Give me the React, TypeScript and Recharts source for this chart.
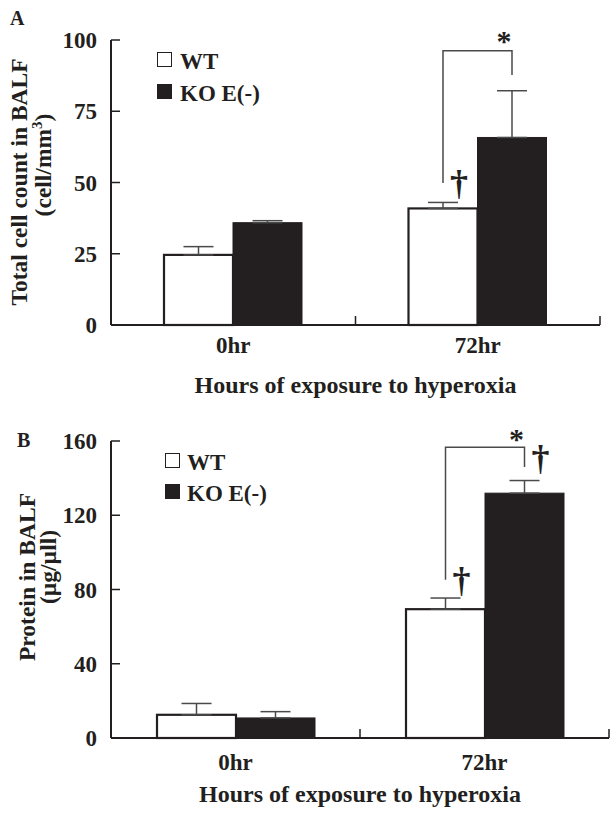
import React from 'react';
import { BarChart, Bar, XAxis, YAxis, ErrorBar, Legend } from 'recharts';

const categories = ['0hr', '72hr'];
const seriesNames = ['WT', 'KO E(-)'];
const xTitle = 'Hours of exposure to hyperoxia';

// Panel A: total cell count in BALF
const cellWt = [24.6, 40.9];
const cellWtErr = [2.9, 2.1];
const cellKo = [35.9, 65.8];
const cellKoErr = [0.7, 16.4];
const cellTicks = [0, 25, 50, 75, 100];
const cellWtDagger = [null, 49];
const cellKoDagger = [null, null];
const cellBracket = [null, { top: 96.2, left: 49.8, right: 87.7, star: 100.9 }];

// Panel B: protein in BALF
const protWt = [12.5, 69.4];
const protWtErr = [6.1, 6.0];
const protKo = [10.8, 131.9];
const protKoErr = [3.4, 6.8];
const protTicks = [0, 40, 80, 120, 160];
const protWtDagger = [null, 84];
const protKoDagger = [null, 150];
const protBracket = [null, { top: 156.7, left: 85.2, right: 146, star: 163.3 }];

const INK = '#231f20';
const LINE = '#4a4a4a';
const FONT = "'Liberation Serif', 'Times New Roman', serif";
const seriesFills = ['#ffffff', INK];

type Br = { top: number; left: number; right: number; star: number } | null;

function buildData(wt: number[], wtE: number[], ko: number[], koE: number[]) {
  return categories.map((cat, i) => ({
    cat,
    wt: wt[i],
    ko: ko[i],
    wtErr: [0, wtE[i]],
    koErr: [0, koE[i]],
  }));
}

const Dagger = ({ x, y }: { x: number; y: number }) => (
  <text x={x} y={y + 10} textAnchor="middle" fontFamily={FONT} fontWeight="bold" fontSize={36} fill={INK}>
    †
  </text>
);

function makeWtShape(daggers: (number | null)[]) {
  return (props: any) => {
    const { x, y, width, height, index, payload } = props;
    const v = payload.wt;
    const base = y + height;
    const k = v ? height / v : 0;
    const d = daggers[index];
    return (
      <g>
        <rect x={x} y={y} width={width} height={height} fill="#ffffff" stroke={INK} strokeWidth={2.2} />
        {d != null && <Dagger x={x + width / 2 + 16} y={base - d * k} />}
      </g>
    );
  };
}

function makeKoShape(daggers: (number | null)[], brackets: Br[]) {
  return (props: any) => {
    const { x, y, width, height, index, payload } = props;
    const v = payload.ko;
    const base = y + height;
    const k = v ? height / v : 0;
    const py = (val: number) => base - val * k;
    const d = daggers[index];
    const b = brackets[index];
    const cx = x + width / 2;
    const lx = x - width / 2;
    return (
      <g>
        <rect x={x} y={y} width={width} height={height} fill={INK} stroke={INK} strokeWidth={1} />
        {d != null && <Dagger x={cx + 16} y={py(d)} />}
        {b && (
          <g>
            <path
              d={`M${lx},${py(b.left)} V${py(b.top)} H${cx} V${py(b.right)}`}
              fill="none"
              stroke={LINE}
              strokeWidth={1.5}
            />
            <text x={cx - 8} y={py(b.star) + 14} textAnchor="middle" fontFamily={FONT} fontWeight="bold" fontSize={30} fill={INK}>
              *
            </text>
          </g>
        )}
      </g>
    );
  };
}

function makeXTick(labelDy: number, n: number) {
  return (props: any) => {
    const { x, y, payload } = props;
    let half = payload && typeof payload.offset === 'number' && payload.offset > 0 ? payload.offset : 0;
    if (!half && typeof props.width === 'number') half = props.width / n / 2;
    return (
      <g>
        <line x1={x + half} x2={x + half} y1={y} y2={y - 9} stroke={INK} strokeWidth={1.5} />
        <text x={x} y={y + labelDy} textAnchor="middle" fontFamily={FONT} fontWeight="bold" fontSize={23} fill={INK}>
          {payload.value}
        </text>
      </g>
    );
  };
}

function makeLegend(rowH: number, gap: number) {
  return () => (
    <div style={{ fontFamily: FONT, fontWeight: 'bold', fontSize: 23, color: INK }}>
      {seriesNames.map((name, i) => (
        <div key={name} style={{ display: 'flex', alignItems: 'flex-start', height: rowH }}>
          <span
            style={{
              display: 'inline-block',
              width: 15,
              height: 15,
              boxSizing: 'border-box',
              border: `1.5px solid ${INK}`,
              background: seriesFills[i],
              marginRight: gap,
            }}
          />
          <span style={{ lineHeight: '22px', position: 'relative', top: -1, whiteSpace: 'nowrap' }}>{name}</span>
        </div>
      ))}
    </div>
  );
}

type PanelProps = {
  top: number;
  height: number;
  margin: { top: number; right: number; left: number; bottom: number };
  data: any[];
  ticks: number[];
  barSize: number;
  wtDagger: (number | null)[];
  koDagger: (number | null)[];
  bracket: Br[];
  labelDy: number;
  titleOffset: number;
  legendPos: { left: number; top: number; rowH: number; gap: number };
};

function Panel(p: PanelProps) {
  const domainMax = p.ticks[p.ticks.length - 1];
  return (
    <div style={{ position: 'absolute', left: 0, top: p.top }}>
      <BarChart width={612} height={p.height} data={p.data} margin={p.margin} barGap={0} barSize={p.barSize}>
        <XAxis
          dataKey="cat"
          interval={0}
          tickLine={false}
          tickSize={0}
          tickMargin={0}
          height={70}
          axisLine={{ stroke: INK, strokeWidth: 2 }}
          tick={makeXTick(p.labelDy, categories.length)}
          label={{
            value: xTitle,
            position: 'insideBottom',
            offset: p.titleOffset,
            fill: INK,
            fontFamily: FONT,
            fontWeight: 'bold',
            fontSize: 24,
          }}
        />
        <YAxis
          domain={[0, domainMax]}
          ticks={p.ticks}
          interval={0}
          width={60}
          tickSize={-9}
          tickMargin={23}
          axisLine={{ stroke: INK, strokeWidth: 2 }}
          tickLine={{ stroke: INK, strokeWidth: 1.5 }}
          tick={{ fill: INK, fontFamily: FONT, fontWeight: 'bold', fontSize: 23 }}
        />
        <Legend
          layout="vertical"
          align="center"
          verticalAlign="middle"
          content={makeLegend(p.legendPos.rowH, p.legendPos.gap)}
          wrapperStyle={{ left: p.legendPos.left, top: p.legendPos.top, width: 'auto', height: 'auto' }}
        />
        <Bar dataKey="wt" name={seriesNames[0]} fill={seriesFills[0]} stroke={INK} isAnimationActive={false} shape={makeWtShape(p.wtDagger)}>
          <ErrorBar dataKey="wtErr" direction="y" width={15} stroke={LINE} strokeWidth={1.5} />
        </Bar>
        <Bar dataKey="ko" name={seriesNames[1]} fill={seriesFills[1]} isAnimationActive={false} shape={makeKoShape(p.koDagger, p.bracket)}>
          <ErrorBar dataKey="koErr" direction="y" width={15} stroke={LINE} strokeWidth={1.5} />
        </Bar>
      </BarChart>
    </div>
  );
}

export default function App() {
  const dataA = buildData(cellWt, cellWtErr, cellKo, cellKoErr);
  const dataB = buildData(protWt, protWtErr, protKo, protKoErr);
  return (
    <div style={{ position: 'absolute', left: 0, top: 0, width: 612, height: 814, background: '#ffffff' }}>
      <Panel
        top={0}
        height={400}
        margin={{ top: 40, right: 12, left: 51, bottom: 5 }}
        data={dataA}
        ticks={cellTicks}
        barSize={69}
        wtDagger={cellWtDagger}
        koDagger={cellKoDagger}
        bracket={cellBracket}
        labelDy={28}
        titleOffset={2}
        legendPos={{ left: 157, top: 52, rowH: 32, gap: 8 }}
      />
      <Panel
        top={400}
        height={414}
        margin={{ top: 41, right: 3, left: 51, bottom: 6 }}
        data={dataB}
        ticks={protTicks}
        barSize={79}
        wtDagger={protWtDagger}
        koDagger={protKoDagger}
        bracket={protBracket}
        labelDy={32}
        titleOffset={6}
        legendPos={{ left: 165, top: 53, rowH: 31, gap: 7 }}
      />
      <svg
        width={612}
        height={814}
        style={{ position: 'absolute', left: 0, top: 0, pointerEvents: 'none' }}
        fontFamily={FONT}
        fontWeight="bold"
        fill={INK}
      >
        <text x={10} y={25} fontSize={20}>A</text>
        <text x={17} y={447} fontSize={20}>B</text>
        <text x={27} y={182} fontSize={23.5} textAnchor="middle" transform="rotate(-90 27 182)">
          Total cell count in BALF
        </text>
        <text x={51} y={165} fontSize={23.5} textAnchor="middle" transform="rotate(-90 51 165)">
          (cell/mm<tspan dy={-9} fontSize={15}>3</tspan>
          <tspan dy={9}>)</tspan>
        </text>
        <text x={35} y={577} fontSize={23.5} textAnchor="middle" transform="rotate(-90 35 577)">
          Protein in BALF
        </text>
        <text x={56} y={567} fontSize={23.5} textAnchor="middle" transform="rotate(-90 56 567)">
          (µg/µll)
        </text>
      </svg>
    </div>
  );
}
